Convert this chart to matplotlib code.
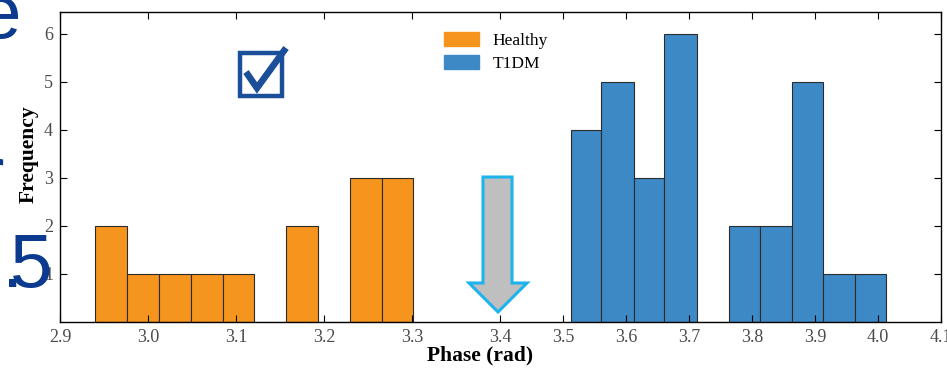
import numpy as np
import matplotlib
matplotlib.use('Agg')
import matplotlib.pyplot as plt
from matplotlib.patches import Polygon, Rectangle
from matplotlib.lines import Line2D

# %% data

# tick values and where they sit (pixels from the left spine), the axis is not linear in the picture
tick_vals = [2.9, 3.4, 4.1]
tick_pix = [0.0, 440.0, 881.0]

healthy_edges = [2.940, 2.976, 3.013, 3.049, 3.085, 3.120, 3.157, 3.193, 3.230, 3.266, 3.301]
healthy_counts = [2, 1, 1, 1, 1, 0, 2, 0, 3, 3]

t1dm_edges = [3.512, 3.561, 3.612, 3.661, 3.712, 3.763, 3.812, 3.863, 3.913, 3.964, 4.013]
t1dm_counts = [4, 5, 3, 6, 0, 2, 2, 5, 1, 1]

xticks = [2.9, 3.0, 3.1, 3.2, 3.3, 3.4, 3.5, 3.6, 3.7, 3.8, 3.9, 4.0, 4.1]
yticks = [1, 2, 3, 4, 5, 6]

# %%

W, H = 947, 376
fig = plt.figure(figsize=(W / 100, H / 100), dpi=100)
plt.rcParams['font.family'] = ['Liberation Serif', 'DejaVu Serif']


def px(x, y):
    return (x / W, 1 - y / H)


def _fwd(x):
    return np.interp(x, tick_vals, tick_pix)


def _inv(p):
    return np.interp(p, tick_pix, tick_vals)


ax = fig.add_axes([60 / W, 1 - 322 / H, 881 / W, 310 / H])
ax.set_xscale('function', functions=(_fwd, _inv))

orange = '#f5951d'
blue = '#3d89c6'

for edges, counts, col, lab in [(healthy_edges, healthy_counts, orange, 'Healthy'),
                                (t1dm_edges, t1dm_counts, blue, 'T1DM')]:
    e = np.array(edges)
    ax.bar(e[:-1], counts, width=np.diff(e), align='edge', color=col,
           edgecolor='#2b2b2b', linewidth=0.8, label=lab)

ax.set_xlim(2.9, 4.1)
ax.set_ylim(0, 6.45)
ax.set_xticks(xticks)
ax.set_xticklabels(['%.1f' % t for t in xticks])
ax.set_yticks(yticks)
ax.xaxis.set_minor_locator(matplotlib.ticker.NullLocator())
ax.tick_params(direction='in', top=True, right=True, length=5, width=0.8,
               labelsize=13, labelcolor='#4a4a4a', pad=5)
for s in ax.spines.values():
    s.set_linewidth(1.0)

ax.set_xlabel('Phase (rad)', fontsize=15.5, fontweight='bold', va='top')
ax.xaxis.set_label_coords(0.477, -0.077)
ax.set_ylabel('Frequency', fontsize=15.5, fontweight='bold')
ax.yaxis.set_label_coords(-0.024, 0.54)

leg_handles = [Rectangle((0, 0), 1, 1, color=orange), Rectangle((0, 0), 1, 1, color=blue)]
ax.legend(leg_handles, ['Healthy', 'T1DM'], frameon=False, fontsize=12.5,
          loc='upper left', bbox_to_anchor=(0.428, 0.957), handlelength=2.0,
          handleheight=0.85, labelspacing=0.32, borderaxespad=0)

# %% slide decorations around the chart

arrow = [(483, 177), (512, 177), (512, 283), (527, 283), (498, 312),
         (469, 283), (483, 283)]
fig.add_artist(Polygon([px(*p) for p in arrow], closed=True, facecolor='#bfbfbf',
                       edgecolor='#1db3ec', linewidth=2.2, transform=fig.transFigure))

box_col = '#1c4f9a'
x0, y0 = px(240, 96)
x1, y1 = px(282, 53)
fig.add_artist(Rectangle((x0, y0), x1 - x0, y1 - y0, fill=False, edgecolor=box_col,
                         linewidth=3.2, transform=fig.transFigure))
chk = [px(246, 72), px(257, 88), px(286, 48)]
fig.add_artist(Line2D([c[0] for c in chk], [c[1] for c in chk], color=box_col,
                      linewidth=4.8, solid_capstyle='butt', solid_joinstyle='miter',
                      transform=fig.transFigure))

slide_col = '#0b3a8f'
fig.text(*px(21, 38), 'e', fontsize=55, color=slide_col, ha='right', va='baseline',
         family='Liberation Sans')
fig.text(*px(4, 200), 'r', fontsize=55, color=slide_col, ha='right', va='baseline',
         family='Liberation Sans')
fig.text(*px(53, 287), '5', fontsize=55, color=slide_col, ha='right', va='baseline',
         family='Liberation Sans')
fig.text(*px(2, 287), '.', fontsize=55, color=slide_col, ha='left', va='baseline',
         family='Liberation Sans')

fig.savefig('out.png', dpi=100)
